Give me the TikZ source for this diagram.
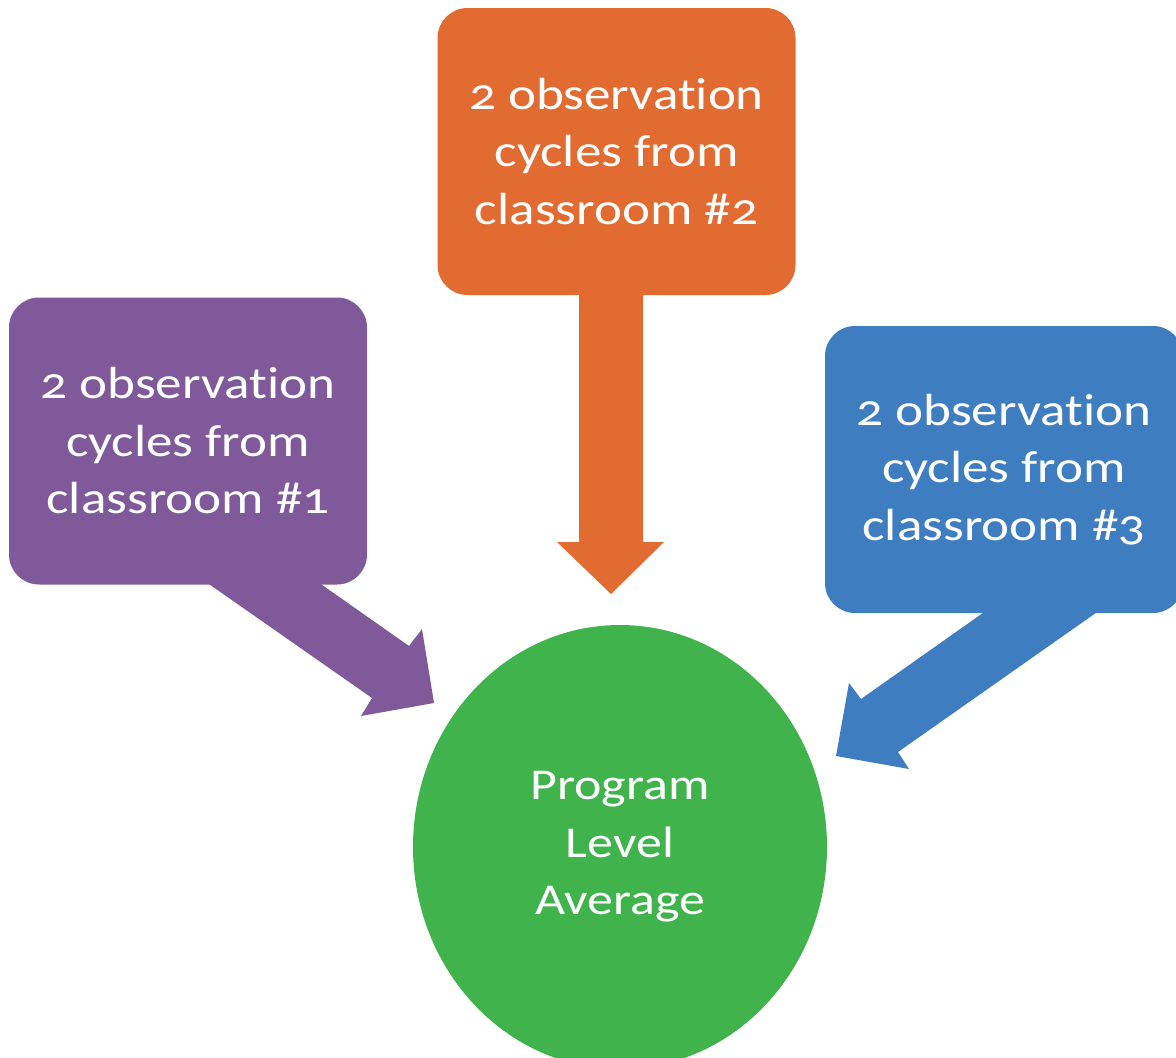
\documentclass[tikz,border=0pt]{standalone}
\usepackage{fontspec}
\setmainfont{Carlito}[Numbers=OldStyle,FakeStretch=1.18,Ligatures={NoCommon}]
\usetikzlibrary{shapes.geometric}
\definecolor{cpurple}{RGB}{127,89,153}
\definecolor{corange}{RGB}{225,107,48}
\definecolor{cblue}{RGB}{62,125,192}
\definecolor{cgreen}{RGB}{65,179,77}
\tikzset{
  card/.style={rounded corners=30pt, minimum width=358pt, minimum height=287pt,
    inner sep=0pt, text=white, align=center,
    font=\fontsize{45pt}{57.5pt}\selectfont},
  hub/.style={ellipse, minimum width=414pt, minimum height=444pt, inner sep=0pt,
    fill=cgreen, text=white, align=center,
    font=\fontsize{44pt}{57.5pt}\selectfont},
}
\begin{document}
\begin{tikzpicture}[x=1pt,y=-1pt]
\useasboundingbox (0,0) rectangle (1176,1058);
\clip (0,0) rectangle (1176,1058);
% hub
\node[hub] (avg) at (620,847) {Program\\Level\\Average};
% arrows
\fill[corange] (579,280) -- (643,280) -- (643,542) -- (664,542) -- (611,594) -- (557,542) -- (579,542) -- cycle;
\fill[cpurple] (196,575) -- (308,575) -- (409,646) -- (422,629) -- (434,703) -- (361,716) -- (372,698) -- cycle;
\fill[cblue] (997,603) -- (1110,603) -- (898,752) -- (909,769) -- (836,756) -- (849,683) -- (861,699) -- cycle;
% cards
\node[card, fill=cpurple] (c1) at (188,441) {2 observation\\cycles from\\classroom \#1};
\node[card, fill=corange] (c2) at (616.5,151.5) {2 observation\\cycles from\\classroom \#2};
\node[card, fill=cblue] (c3) at (1004,469.5) {2 observation\\cycles from\\classroom \#3};
\end{tikzpicture}
\end{document}
